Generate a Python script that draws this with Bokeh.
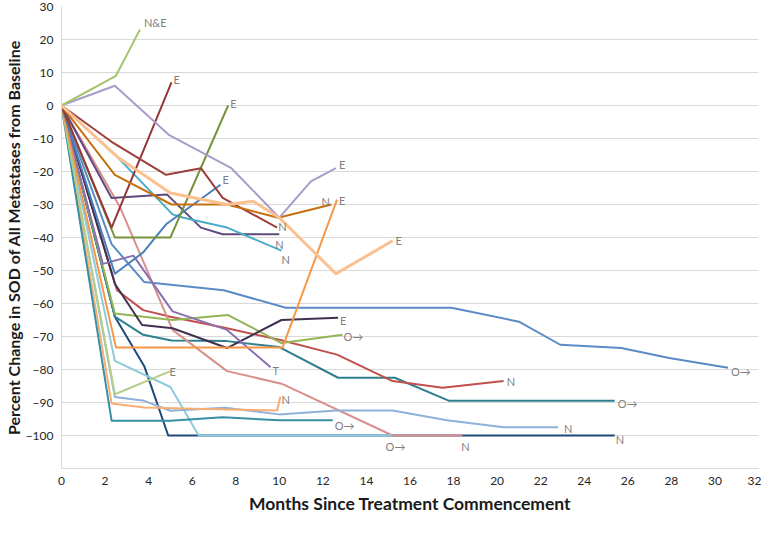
from bokeh.plotting import figure
from bokeh.models import Range1d, FixedTicker, ColumnDataSource
from bokeh.core.properties import value
from bokeh.embed import file_html
from bokeh.resources import INLINE

# ---------------- data (months since start, % change in SOD) ----------------
navy_n_m = [0, 2.45, 3.8, 4.9, 25.4]
navy_n_p = [0, -64, -79, -100, -100]

sblue_o_m = [0, 2.3, 3.8, 7.45, 10.3, 17.9, 21.0, 22.9, 25.7, 27.9, 30.6]
sblue_o_p = [0, -42, -53.5, -56, -61.3, -61.3, -65.5, -72.5, -73.5, -76.5, -79.5]

teal89_o_m = [0, 2.45, 3.75, 5.05, 7.6, 10.0, 12.7, 15.3, 17.8, 25.4]
teal89_o_p = [0, -64, -69.5, -71.2, -71.4, -73.2, -82.5, -82.5, -89.5, -89.5]

red_n_m = [0, 2.55, 3.75, 5.0, 7.6, 10.0, 12.65, 15.2, 17.5, 20.3]
red_n_p = [0, -56, -62, -64, -67.5, -71, -75.5, -83.5, -85.5, -83.5]

rose_n_m = [0, 2.7, 5.1, 7.6, 10.1, 15.2, 18.4]
rose_n_p = [0, -31, -68, -80.5, -84.3, -100, -100]

lcyan_o_m = [0, 2.45, 5.0, 6.3, 15.2]
lcyan_o_p = [0, -77.4, -85.3, -100, -100]

lblue_n_m = [0, 2.45, 3.8, 5.0, 7.5, 10.0, 12.6, 15.2, 17.7, 20.3, 22.8]
lblue_n_p = [0, -88.3, -89.5, -92.5, -91.6, -93.6, -92.4, -92.4, -95.4, -97.5, -97.5]

lorange_n_m = [0, 2.3, 3.8, 6.6, 9.9, 10.05]
lorange_n_p = [0, -90.3, -91.5, -92, -92.4, -88.2]

teal95_o_m = [0, 2.3, 5.0, 7.4, 10.0, 12.45]
teal95_o_p = [0, -95.5, -95.5, -94.5, -95.4, -95.4]

lgreen_e_m = [0, 2.45, 5.0]
lgreen_e_p = [0, -87.5, -80.5]

green_o_m = [0, 2.45, 5.1, 7.65, 10.1, 12.9]
green_o_p = [0, -63, -65, -63.5, -72, -69.5]

dpurple_e_m = [0, 2.45, 3.7, 5.1, 7.6, 10.1, 12.7]
dpurple_e_p = [0, -54, -66.5, -67.5, -73.5, -65, -64.3]

purple_t_m = [0, 1.9, 3.3, 5.1, 7.6, 9.6]
purple_t_p = [0, -48, -45.5, -62.4, -68, -79.3]

orange_e_m = [0, 2.5, 5.0, 7.5, 10.15, 12.65]
orange_e_p = [0, -73.3, -73.3, -73.3, -73.3, -28.5]

dpurple_n_m = [0, 2.3, 4.85, 6.4, 7.4, 10.0]
dpurple_n_p = [0, -28, -27, -37, -39, -39]

cyan_n_m = [0, 2.55, 5.1, 5.6, 7.6, 10.1]
cyan_n_p = [0, -15.5, -33, -34, -37, -44]

sblue_e_m = [0, 2.45, 3.75, 4.8, 7.3]
sblue_e_p = [0, -51, -44.5, -36, -24]

olive_e_m = [0, 2.45, 5.0, 7.65]
olive_e_p = [0, -40, -40, 0]

dred_e_m = [0, 2.3, 5.05]
dred_e_p = [0, -37, 7]

dred_n_m = [0, 2.3, 4.8, 6.4, 7.4, 9.9]
dred_n_p = [0, -11, -21, -19, -28, -37]

dorange_n_m = [0, 2.45, 5.05, 7.6, 9.95, 12.4]
dorange_n_p = [0, -21, -30, -30, -34, -30]

lav_e_m = [0, 2.45, 4.95, 7.8, 10.0, 11.45, 12.6]
lav_e_p = [0, 6, -9, -19, -34, -23, -19]

ne_m = [0, 2.5, 3.6]
ne_p = [0, 9, 23]

peach_e_m = [0, 2.55, 5.0, 7.6, 8.8, 10.0, 12.6, 15.2]
peach_e_p = [0, -15.5, -26.5, -30, -29, -34, -51, -41]

y_ticks = [30, 20, 10, 0, -10, -20, -30, -40, -50, -60, -70, -80, -90, -100]
x_ticks = [0, 2, 4, 6, 8, 10, 12, 14, 16, 18, 20, 22, 24, 26, 28, 30, 32]

x_title = "Months Since Treatment Commencement"
y_title = "Percent Change in SOD of All Metastases from Baseline"

# ---------------- series: data, end label, colour, label offset (px) ----------------
series = [
    (navy_n_m, navy_n_p, "N", "#1F497D", 1, 4),
    (sblue_o_m, sblue_o_p, "O→", "#5B8BC5", 3, 4),
    (teal89_o_m, teal89_o_p, "O→", "#2F7F8F", 3, 3),
    (red_n_m, red_n_p, "N", "#C0504D", 3, 0),
    (rose_n_m, rose_n_p, "N", "#D98F8C", -1, 11),
    (lcyan_o_m, lcyan_o_p, "O→", "#8DCADB", -7, 11),
    (lblue_n_m, lblue_n_p, "N", "#8EB0DA", 6, 1),
    (lorange_n_m, lorange_n_p, "N", "#F6AE72", 1, 3),
    (teal95_o_m, teal95_o_p, "O→", "#3590A5", 2, 5),
    (lgreen_e_m, lgreen_e_p, "E", "#B4CF8B", -1, 0),
    (green_o_m, green_o_p, "O→", "#93B556", 1, 2),
    (dpurple_e_m, dpurple_e_p, "E", "#403151", 2, 3),
    (purple_t_m, purple_t_p, "T", "#8A70B0", 2, 3),
    (orange_e_m, orange_e_p, "E", "#F79646", 2, 1),
    (dpurple_n_m, dpurple_n_p, "N", "#604A7B", -4, 10),
    (cyan_n_m, cyan_n_p, "N", "#4BACC6", 0, 9),
    (sblue_e_m, sblue_e_p, "E", "#4A7EBB", 2, -5),
    (olive_e_m, olive_e_p, "E", "#77933C", 2, -2),
    (dred_e_m, dred_e_p, "E", "#953735", 2, -3),
    (dred_n_m, dred_n_p, "N", "#9C3F3C", 1, -1),
    (dorange_n_m, dorange_n_p, "N", "#C5700E", -10, -3),
    (lav_e_m, lav_e_p, "E", "#A99CCB", 3, -4),
    (ne_m, ne_p, "N&E", "#A5C46B", 4, -7),
    (peach_e_m, peach_e_p, "E", "#FAC090", 3, 0),
]

FONT = "Lato"

p = figure(width=761, height=517, output_backend="svg", toolbar_location=None,
           x_range=Range1d(0, 32), y_range=Range1d(-110, 30),
           min_border_left=51, min_border_right=3, min_border_top=6, min_border_bottom=49)
p.outline_line_color = None
p.background_fill_color = "white"
p.border_fill_color = "white"

p.xgrid.grid_line_color = None
p.ygrid.ticker = FixedTicker(ticks=y_ticks)
p.ygrid.grid_line_color = "#D9D9D9"
p.ygrid.grid_line_width = 1

p.yaxis.ticker = FixedTicker(ticks=y_ticks)
p.xaxis.ticker = FixedTicker(ticks=x_ticks)
for ax in (p.xaxis, p.yaxis):
    ax.axis_line_color = "#D9D9D9"
    ax.axis_line_width = 1
    ax.major_tick_line_color = None
    ax.minor_tick_line_color = None
    ax.major_tick_out = 0
    ax.major_tick_in = 0
    ax.minor_tick_out = 0
    ax.minor_tick_in = 0
    ax.major_label_text_font = FONT
    ax.major_label_text_font_size = "12px"
    ax.major_label_text_color = "#262626"
    ax.axis_label_text_font = FONT
    ax.axis_label_text_font_style = "bold"
    ax.axis_label_text_color = "#1a1a1a"

p.xaxis.axis_label = x_title
p.xaxis.axis_label_text_font_size = "17.5px"
p.xaxis.major_label_standoff = 8
p.xaxis.axis_label_standoff = 5
p.yaxis.axis_label = y_title
p.yaxis.axis_label_text_font_size = "16px"
p.yaxis.major_label_standoff = 8
p.yaxis.axis_label_standoff = 0

lab_x, lab_y, lab_t, lab_dx, lab_dy = [], [], [], [], []
for m, pc, lab, col, dx, dy in series:
    w = 3 if col == "#FAC090" else 2
    p.line(x=m, y=pc, line_color=col, line_width=w, line_join="round")
    lab_x.append(m[-1]); lab_y.append(pc[-1]); lab_t.append(lab)
    lab_dx.append(dx); lab_dy.append(dy)

src = ColumnDataSource(dict(x=lab_x, y=lab_y, t=lab_t, dx=lab_dx, dy=lab_dy))
p.text(x="x", y="y", text="t", x_offset="dx", y_offset="dy", source=src,
       text_font=value(FONT), text_font_size="11px", text_color="#7F7F7F",
       text_align="left", text_baseline="middle")

open("out.html", "w").write(file_html(p, INLINE))
